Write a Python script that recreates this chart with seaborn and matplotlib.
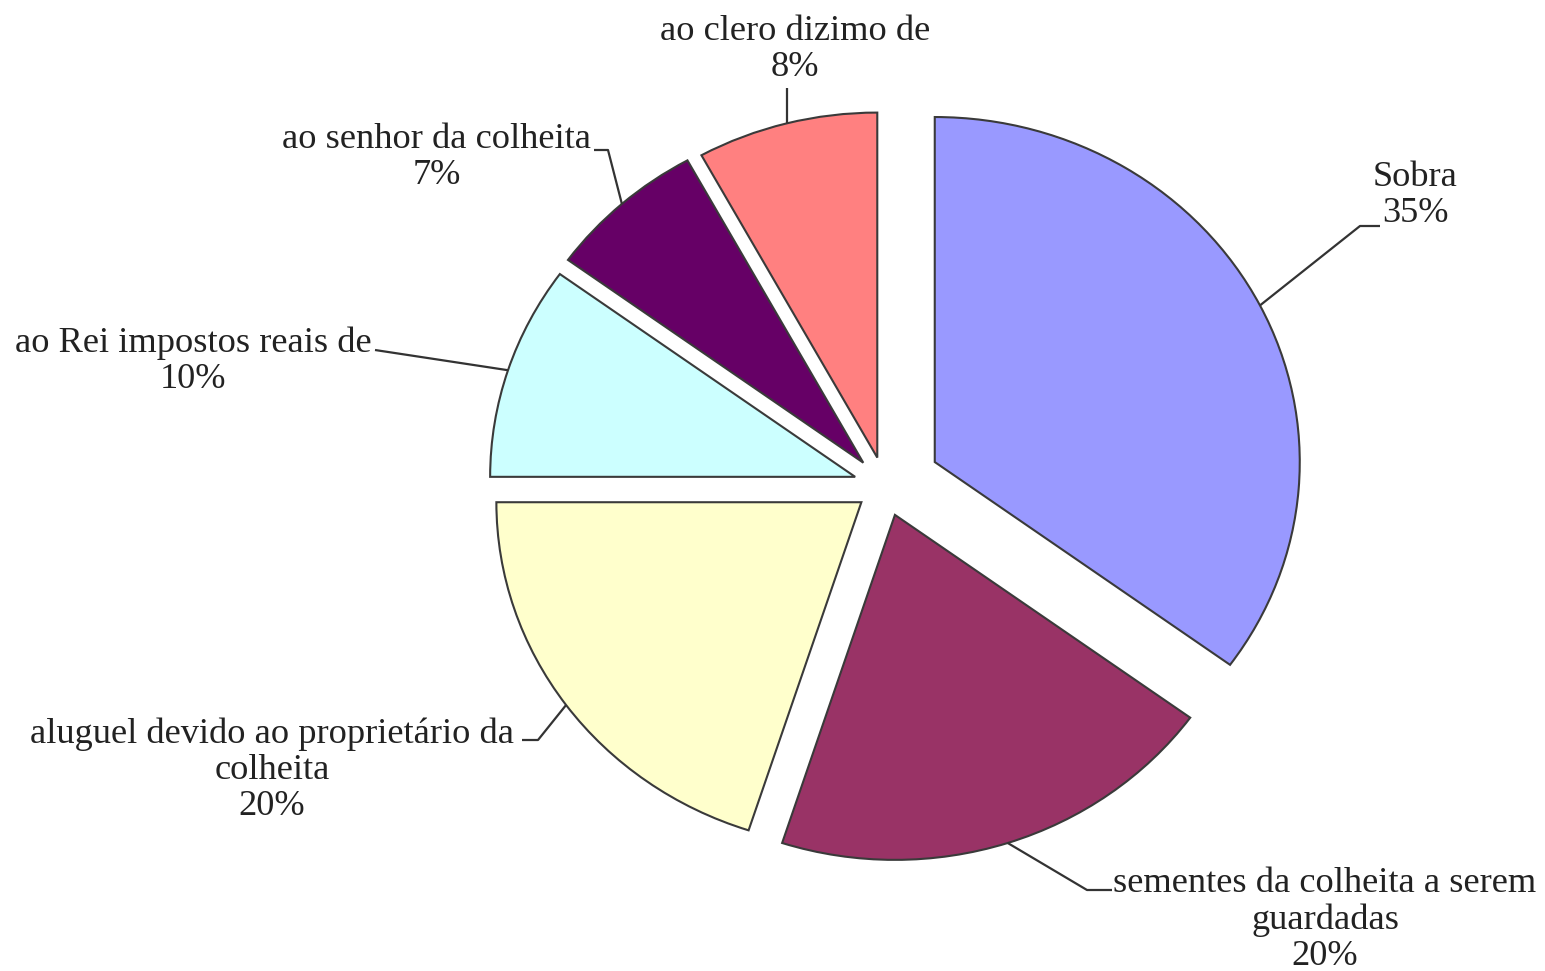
import matplotlib
matplotlib.use("Agg")
import matplotlib.pyplot as plt
import seaborn as sns
import numpy as np

# ---- data ----
categories = [
    "Sobra",
    "sementes da colheita a serem\nguardadas",
    "aluguel devido ao proprietário da\ncolheita",
    "ao Rei impostos reais de",
    "ao senhor da colheita",
    "ao clero dizimo de",
]
values = [35, 20, 20, 10, 7, 8]
colors = ["#9999FF", "#993366", "#FFFFCC", "#CCFFFF", "#660066", "#FF8080"]
explode = [0.153, 0.088, 0.08, 0.086, 0.09, 0.085]

# ---- layout (pixel coordinates in the 1545x971 canvas) ----
label_pos = [(1415, 196), (1325, 920), (272, 770), (193, 361), (437, 157), (795, 50)]
leader_end = [(1380, 226), (1112, 890), (522, 740), (375, 350), (594, 150), (None, 88)]
leader_elbow = [(1360, 226), (1087, 890), (538, 740), None, (608, 150), None]

sns.set_theme(style="white")
plt.rcParams['font.family'] = ['Liberation Serif', 'DejaVu Serif']

W, H = 1545, 971
fig = plt.figure(figsize=(W / 100, H / 100), dpi=100)
ax = fig.add_axes([0, 0, 1, 1])
CX, CY, RX, RY = 885, 486, 365, 345


def to_data(x, y):
    return ((x - CX) / RX, (CY - y) / RY)


wedges, _ = ax.pie(
    values, colors=colors, startangle=90, counterclock=False,
    explode=explode,
    wedgeprops=dict(edgecolor="#3a3a3a", linewidth=1.5),
    radius=1,
)
ax.set_aspect('auto')
ax.set_xlim((0 - CX) / RX, (W - CX) / RX)
ax.set_ylim((CY - H) / RY, CY / RY)
ax.axis('off')

for i, w in enumerate(wedges):
    mid = np.deg2rad((w.theta1 + w.theta2) / 2)
    arc_pt = (w.center[0] + w.r * np.cos(mid), w.center[1] + w.r * np.sin(mid))
    ex, ey = leader_end[i]
    if ex is None:
        end = (arc_pt[0], to_data(0, ey)[1])
    else:
        end = to_data(ex, ey)
    pts = [arc_pt]
    if leader_elbow[i] is not None:
        pts.append(to_data(*leader_elbow[i]))
    pts.append(end)
    xs, ys = zip(*pts)
    ax.plot(xs, ys, color="#333333", lw=1.6, solid_capstyle='butt')
    tx, ty = to_data(*label_pos[i])
    ax.text(tx, ty, f"{categories[i]}\n{values[i]}%", ha='center', va='center',
            fontsize=26.2, color="#222222", linespacing=1.12)

fig.savefig("out.png", dpi=100, facecolor="white")
